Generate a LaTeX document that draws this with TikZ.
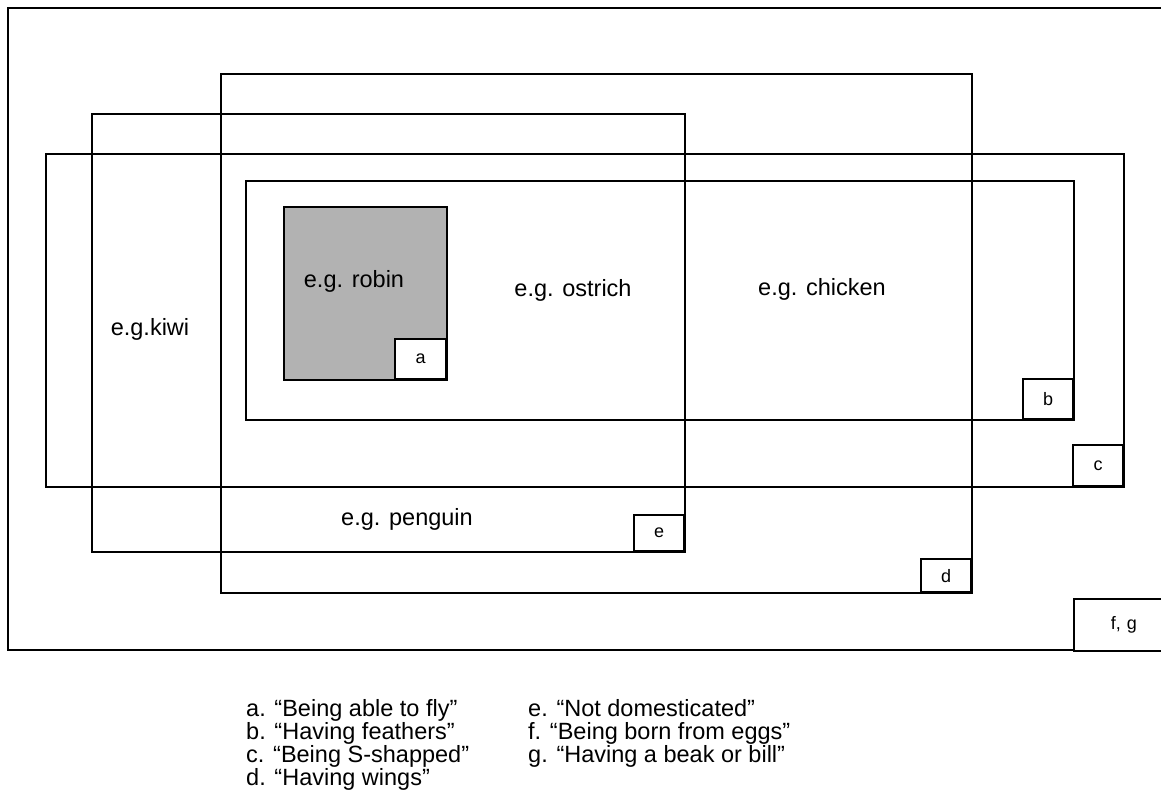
\documentclass[tikz,border=0pt]{standalone}
\usepackage{fontspec}
\setmainfont{Liberation Sans}
\begin{document}
\begin{tikzpicture}[x=1pt,y=-1pt,
  frame/.style={draw=black,line width=1.6pt},
  tag/.style={draw=black,line width=1.6pt,fill=white,anchor=south east,minimum width=50pt,minimum height=40pt,inner sep=0pt,font=\fontsize{18}{20}\selectfont},
  lab/.style={anchor=base,inner sep=0pt,font=\fontsize{23.5}{27}\selectfont},
  legend/.style={anchor=base west,inner sep=0pt,font=\fontsize{23.5}{23}\selectfont}]
\clip (0,0) rectangle (1161,803);
\fill[white] (0,0) rectangle (1161,803);
% outer frame (f, g)
\draw[frame] (8,8) rectangle (1175,650);
% d
\draw[frame] (221,74) rectangle (972,593);
% e
\draw[frame] (92,114) rectangle (685,552);
% c
\draw[frame] (46,154) rectangle (1124,487);
% b
\draw[frame] (246,181) rectangle (1074,420);
% a (gray)
\draw[frame,fill=black!30] (284,207) rectangle (447,380);
% tags
\coordinate (ca) at (447,380);
\coordinate (cb) at (1074,420);
\coordinate (cc) at (1124,487);
\coordinate (cd) at (972,593);
\coordinate (ce) at (685,552);
\node[tag,minimum width=51pt] (ta) at (ca) {a};
\node[tag] (tb) at (cb) {b};
\node[tag,minimum height=41pt] (tc) at (cc) {c};
\node[tag,minimum height=33pt] (td) at (cd) {d};
\node[tag,minimum height=36pt] (te) at (ce) {e};
\node[tag,anchor=north west,minimum width=100pt,minimum height=52pt,text width=88pt,align=center] (tfg) at (1073,598) {f, g};
% labels
\node[lab] (robin) at (354,287) {e.g. robin};
\node[lab] (ostrich) at (573,296) {e.g. ostrich};
\node[lab] (chicken) at (822,295) {e.g. chicken};
\node[lab] (kiwi) at (150,335) {e.g.kiwi};
\node[lab] (penguin) at (407,525) {e.g. penguin};
% legend
\node[legend] (la) at (246,716) {a. “Being able to fly”};
\node[legend] (lb) at (246,739) {b. “Having feathers”};
\node[legend] (lc) at (246,762) {c. “Being S-shapped”};
\node[legend] (ld) at (246,785) {d. “Having wings”};
\node[legend] (le) at (528,716) {e. “Not domesticated”};
\node[legend] (lf) at (528,739) {f. “Being born from eggs”};
\node[legend] (lg) at (528,762) {g. “Having a beak or bill”};
\end{tikzpicture}
\end{document}
